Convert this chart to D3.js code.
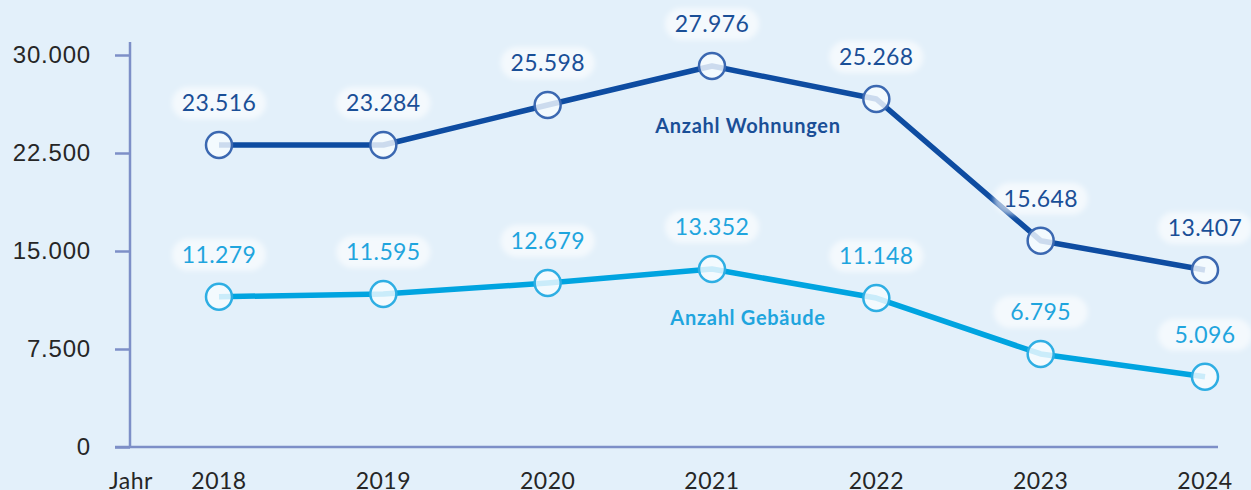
<!DOCTYPE html>
<html>
<head>
    <title>Anzahl Wohnungen und Gebäude</title>
    <script src="https://cdnjs.cloudflare.com/ajax/libs/d3/7.8.5/d3.min.js"></script>
    <style>
        html, body {
            margin: 0;
            padding: 0;
            background: #e3f0fa;
            overflow: hidden;
        }
        svg {
            display: block;
            font-family: Lato, "Open Sans", sans-serif;
        }
        .axis-line {
            stroke: #7d8fc7;
            stroke-width: 2.5;
        }
        .tick-label {
            font-size: 24px;
            letter-spacing: 0.8px;
            fill: #262626;
        }
        .year-label {
            font-size: 23px;
            letter-spacing: 0.5px;
            fill: #262626;
        }
        .series-name {
            font-size: 20px;
            font-weight: bold;
            letter-spacing: 0.7px;
        }
        .value-label {
            font-size: 23px;
            letter-spacing: 0.4px;
        }
    </style>
</head>
<body>
    <div id="chart"></div>

    <script>
        // Years on the x axis
        const years = ["2018", "2019", "2020", "2021", "2022", "2023", "2024"];

        // Printed values (labels above the points)
        const wohnungen = [23516, 23284, 25598, 27976, 25268, 15648, 13407];
        const gebaeude = [11279, 11595, 12679, 13352, 11148, 6795, 5096];

        // Where the points actually sit on the y scale
        const wohnungenPlot = [23110, 23110, 26170, 29160, 26630, 15790, 13550];
        const gebaeudePlot = [11500, 11710, 12550, 13620, 11400, 7120, 5380];

        // Y axis ticks
        const yTicks = [0, 7500, 15000, 22500, 30000];

        const W = 1251, H = 490;

        const de = d3.formatLocale({ decimal: ",", thousands: ".", grouping: [3], currency: ["", "€"] });
        const fmt = de.format(",d");

        const svg = d3.select('#chart')
            .append('svg')
            .attr('width', W)
            .attr('height', H);

        const defs = svg.append('defs');
        defs.append('filter')
            .attr('id', 'soft')
            .attr('x', '-20%').attr('y', '-40%')
            .attr('width', '140%').attr('height', '180%')
            .append('feGaussianBlur')
            .attr('stdDeviation', 2.5);

        const x = d3.scalePoint()
            .domain(years)
            .range([219, 1205]);

        const y = d3.scaleLinear()
            .domain([0, 30000])
            .range([447, 55]);

        // Y axis with ticks and labels
        const yAxis = svg.append('g')
            .attr('transform', 'translate(130,0)')
            .call(d3.axisLeft(y)
                .tickValues(yTicks)
                .tickSize(15)
                .tickPadding(24)
                .tickFormat(fmt));
        yAxis.select('.domain').remove();
        yAxis.selectAll('.tick line').attr('class', 'axis-line');
        yAxis.selectAll('.tick text')
            .attr('class', 'tick-label')
            .attr('font-family', null)
            .attr('font-size', null)
            .attr('fill', null);

        svg.append('line')
            .attr('class', 'axis-line')
            .attr('x1', 130).attr('x2', 130)
            .attr('y1', y(0)).attr('y2', y(30000) - 13);

        svg.append('line')
            .attr('class', 'axis-line')
            .attr('x1', 115).attr('x2', 1218)
            .attr('y1', y(0)).attr('y2', y(0));

        // Year labels
        svg.append('text')
            .attr('class', 'year-label')
            .attr('x', 131)
            .attr('y', 489)
            .attr('text-anchor', 'middle')
            .text('Jahr');

        svg.selectAll('.year-label.yr')
            .data(years)
            .enter()
            .append('text')
            .attr('class', 'year-label yr')
            .attr('x', d => x(d))
            .attr('y', 489)
            .attr('text-anchor', 'middle')
            .text(d => d);

        const series = [
            { plot: wohnungenPlot, values: wohnungen, line: '#0e4ca1', marker: '#3b68b1', text: '#1a4f97',
              name: 'Anzahl Wohnungen', nameX: 748, nameY: 133 },
            { plot: gebaeudePlot, values: gebaeude, line: '#00a4e0', marker: '#2eaee3', text: '#1fa5de',
              name: 'Anzahl Gebäude', nameX: 748, nameY: 325 }
        ];

        const line = d3.line()
            .x((d, i) => x(years[i]))
            .y(d => y(d));

        series.forEach(s => {
            svg.append('path')
                .datum(s.plot)
                .attr('fill', 'none')
                .attr('stroke', s.line)
                .attr('stroke-width', 5.5)
                .attr('stroke-linejoin', 'round')
                .attr('d', line);

            svg.selectAll(null)
                .data(s.plot)
                .enter()
                .append('circle')
                .attr('cx', (d, i) => x(years[i]))
                .attr('cy', d => y(d))
                .attr('r', 13)
                .attr('fill', '#f6fbff')
                .attr('fill-opacity', 0.82)
                .attr('stroke', s.marker)
                .attr('stroke-width', 2.5);

            const lab = svg.selectAll(null)
                .data(s.plot)
                .enter()
                .append('g')
                .attr('transform', (d, i) => `translate(${x(years[i])},${y(d) - 42})`);

            lab.append('rect')
                .attr('x', -47).attr('y', -16)
                .attr('width', 94).attr('height', 32)
                .attr('rx', 16)
                .attr('fill', '#ffffff')
                .attr('fill-opacity', 0.6)
                .attr('filter', 'url(#soft)');

            lab.append('text')
                .attr('class', 'value-label')
                .attr('text-anchor', 'middle')
                .attr('dy', '0.35em')
                .attr('fill', s.text)
                .text((d, i) => fmt(s.values[i]));

            svg.append('text')
                .attr('class', 'series-name')
                .attr('x', s.nameX)
                .attr('y', s.nameY)
                .attr('text-anchor', 'middle')
                .attr('fill', s.text)
                .text(s.name);
        });
    </script>
</body>
</html>
